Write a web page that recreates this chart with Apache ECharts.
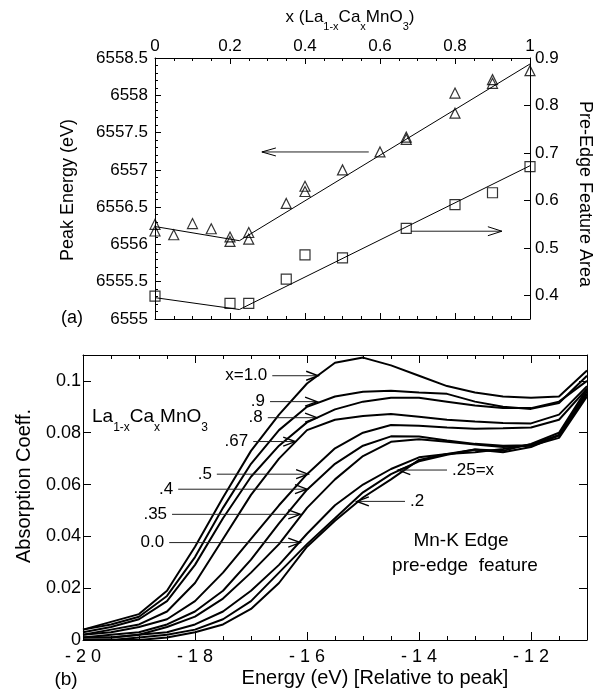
<!DOCTYPE html>
<html>
<head>
<meta charset="utf-8">
<script src="https://cdn.jsdelivr.net/npm/echarts@6/dist/echarts.min.js"></script>
<style>
  html, body { margin: 0; padding: 0; background: #fff; }
  #chart { width: 601px; height: 690px; }
</style>
</head>
<body>
<div id="chart"></div>
<script>
// ---------- Panel (a): peak energy and pre-edge area vs Ca content ----------
const peakX = [0, 0, 0.05, 0.1, 0.15, 0.2, 0.2, 0.25, 0.25, 0.35, 0.4, 0.4, 0.5, 0.6, 0.67, 0.67, 0.8, 0.8, 0.9, 0.9, 1.0];
const peakEnergy = [6556.27, 6556.18, 6556.13, 6556.28, 6556.21, 6556.10, 6556.04, 6556.16, 6556.07, 6556.55, 6556.78, 6556.71, 6557.00, 6557.24, 6557.44, 6557.41, 6558.03, 6557.76, 6558.21, 6558.16, 6558.33];
const areaX = [0, 0.2, 0.25, 0.35, 0.4, 0.5, 0.67, 0.8, 0.9, 1.0];
const featureArea = [0.398, 0.383, 0.383, 0.434, 0.485, 0.479, 0.541, 0.591, 0.616, 0.671];
// two-segment guide lines
const peakFitX = [0, 0.225, 1.0];
const peakFitY = [6556.24, 6556.05, 6558.42];
const areaFitX = [0, 0.225, 1.0];
const areaFitY = [0.395, 0.370, 0.673];
const areaTicks = [0.4, 0.5, 0.6, 0.7, 0.8, 0.9];
// arrows pointing to the axis each data set belongs to: [fromX, fromY, toX, toY]
const peakArrow = [0.57, 6557.24, 0.285, 6557.24];
const areaArrow = [0.683, 0.535, 0.925, 0.535];

// ---------- Panel (b): Mn-K pre-edge spectra ----------
const energy = [-20, -19.5, -19, -18.5, -18, -17.5, -17, -16.5, -16, -15.5, -15, -14.5, -14, -13.5, -13, -12.5, -12, -11.5, -11];
const absX100 = [0.004, 0.007, 0.010, 0.019, 0.036, 0.055, 0.073, 0.087, 0.099, 0.107, 0.109, 0.106, 0.102, 0.098, 0.0955, 0.094, 0.0935, 0.094, 0.104];
const absX090 = [0.004, 0.006, 0.009, 0.017, 0.032, 0.051, 0.068, 0.081, 0.090, 0.094, 0.0958, 0.0962, 0.0955, 0.095, 0.092, 0.090, 0.0892, 0.0915, 0.102];
const absX080 = [0.003, 0.005, 0.008, 0.015, 0.029, 0.047, 0.063, 0.075, 0.084, 0.089, 0.092, 0.0935, 0.0935, 0.092, 0.0905, 0.0895, 0.0895, 0.092, 0.100];
const absX067 = [0.002, 0.004, 0.006, 0.011, 0.022, 0.039, 0.056, 0.070, 0.081, 0.085, 0.0865, 0.0872, 0.0862, 0.085, 0.0843, 0.0838, 0.0836, 0.087, 0.098];
const absX050 = [0.002, 0.003, 0.005, 0.008, 0.015, 0.026, 0.039, 0.052, 0.064, 0.074, 0.080, 0.083, 0.0827, 0.082, 0.0815, 0.0817, 0.082, 0.085, 0.097];
const absX040 = [0.001, 0.002, 0.003, 0.006, 0.011, 0.019, 0.031, 0.045, 0.058, 0.068, 0.075, 0.0786, 0.0785, 0.077, 0.0757, 0.075, 0.0752, 0.079, 0.095];
const absX035 = [0.001, 0.001, 0.002, 0.005, 0.009, 0.016, 0.026, 0.037, 0.051, 0.062, 0.071, 0.0765, 0.0775, 0.0765, 0.0755, 0.0745, 0.075, 0.078, 0.094];
const absX000 = [0.001, 0.001, 0.002, 0.003, 0.006, 0.011, 0.019, 0.029, 0.041, 0.052, 0.060, 0.066, 0.0705, 0.0718, 0.0725, 0.0737, 0.0755, 0.079, 0.096];
const absX025 = [0.000, 0.000, 0.001, 0.002, 0.004, 0.008, 0.015, 0.026, 0.037, 0.047, 0.057, 0.064, 0.069, 0.0715, 0.0735, 0.073, 0.0757, 0.080, 0.097];
const absX020 = [0.000, 0.000, 0.000, 0.001, 0.003, 0.006, 0.012, 0.022, 0.036, 0.046, 0.055, 0.062, 0.0695, 0.0718, 0.0735, 0.0725, 0.0745, 0.079, 0.095];
const spectra = [absX100, absX090, absX080, absX067, absX050, absX040, absX035, absX000, absX025, absX020];

// composition tags with their pointer arrows (energy, absorption)
const tagText = ['x=1.0', '.9', '.8', '.67', '.5', '.4', '.35', '0.0', '.25=x', '.2'];
const tagFrom = [[-16.62, 0.102], [-16.66, 0.092], [-16.70, 0.0858], [-16.96, 0.0766], [-17.61, 0.064], [-18.30, 0.0582], [-18.41, 0.0485], [-18.46, 0.0376], [-13.50, 0.0656], [-14.25, 0.0535]];
const tagTo = [[-15.80, 0.102], [-15.82, 0.092], [-15.82, 0.0858], [-16.21, 0.0766], [-15.98, 0.064], [-16.00, 0.0582], [-16.12, 0.0485], [-16.12, 0.0376], [-14.37, 0.0656], [-15.11, 0.0535]];

// ---------- styling helpers ----------
const FONT = '"Liberation Sans", Arial, Helvetica, sans-serif';
const INK = '#000';

function frameAxis(extra) {
  return Object.assign({
    type: 'value',
    axisLine: { show: true, onZero: false, lineStyle: { color: INK, width: 1 } },
    axisTick: { show: true, inside: true, length: 6, lineStyle: { color: INK, width: 1 } },
    minorTick: { show: false },
    splitLine: { show: false },
    minorSplitLine: { show: false },
    axisLabel: { show: false }
  }, extra);
}
function tickLabel(size, margin, extra) {
  return Object.assign({ show: true, color: INK, fontFamily: FONT, fontSize: size, margin: margin,
                         formatter: function (v) { return String(v); } }, extra || {});
}

// arrow drawn in pixel space from two data points; optional tag at the tail
function arrowRenderer(tags, headLen, headHalf, headWidth, fontSize) {
  return function (params, api) {
    const p1 = api.coord([api.value(0), api.value(1)]);
    const p2 = api.coord([api.value(2), api.value(3)]);
    const dx = p2[0] - p1[0], dy = p2[1] - p1[1];
    const len = Math.hypot(dx, dy) || 1;
    const ux = dx / len, uy = dy / len, nx = -uy, ny = ux;
    const children = [
      { type: 'line', shape: { x1: p1[0], y1: p1[1], x2: p2[0], y2: p2[1] },
        style: { stroke: '#222', lineWidth: 1 } },
      { type: 'polyline',
        shape: { points: [
          [p2[0] - headLen * ux + headHalf * nx, p2[1] - headLen * uy + headHalf * ny],
          [p2[0], p2[1]],
          [p2[0] - headLen * ux - headHalf * nx, p2[1] - headLen * uy - headHalf * ny]
        ] },
        style: { stroke: INK, lineWidth: headWidth, fill: null } }
    ];
    if (tags) {
      const al = ux > 0 ? 'right' : 'left';
      children.push({
        type: 'text', x: p1[0] - 5 * ux, y: p1[1],
        style: { text: tags[params.dataIndex], fill: INK, fontFamily: FONT, fontSize: fontSize,
                 align: al, textAlign: al, verticalAlign: 'middle', textVerticalAlign: 'middle' }
      });
    }
    return { type: 'group', children: children };
  };
}

const subRich = function (main, sub, pad) {
  return {
    m: { fontSize: main, fontFamily: FONT, fill: INK, verticalAlign: 'top' },
    s: { fontSize: sub, fontFamily: FONT, fill: INK, verticalAlign: 'top', padding: [pad, 0, 0, 0] }
  };
};

function plainText(x, y, text, size, rotation, extra) {
  return Object.assign({
    type: 'text', x: x, y: y, rotation: rotation || 0, silent: true,
    style: { text: text, fill: INK, fontFamily: FONT, fontSize: size,
             align: 'center', textAlign: 'center', verticalAlign: 'middle', textVerticalAlign: 'middle' }
  }, extra || {});
}

const curveSeries = spectra.map(function (vals, k) {
  return {
    type: 'line', name: tagText[k], xAxisIndex: 2, yAxisIndex: 2,
    data: energy.map(function (e, i) { return [e, vals[i]]; }),
    showSymbol: false, symbol: 'none', clip: true, silent: true,
    lineStyle: { color: INK, width: 2 }, z: 3
  };
});

const option = {
  animation: false,
  backgroundColor: '#fff',
  grid: [
    { left: 155, top: 58, width: 375, height: 261 },
    { left: 83, top: 355, width: 504, height: 285 }
  ],
  xAxis: [
    frameAxis({ gridIndex: 0, position: 'top', min: 0, max: 1, interval: 0.2,
      minorTick: { show: true, splitNumber: 4, length: 3, lineStyle: { color: INK } },
      axisLabel: tickLabel(17, 3) }),
    frameAxis({ gridIndex: 0, position: 'bottom', min: 0, max: 1, interval: 0.2,
      minorTick: { show: true, splitNumber: 4, length: 3, lineStyle: { color: INK } } }),
    frameAxis({ gridIndex: 1, position: 'bottom', min: -20, max: -11, interval: 2,
      axisTick: { show: true, inside: true, length: 8, lineStyle: { color: INK } },
      minorTick: { show: true, splitNumber: 4, length: 4, lineStyle: { color: INK } },
      axisLabel: tickLabel(18, 8, { showMaxLabel: false,
        formatter: function (v) { return String(v).split('').join(' '); } }) }),
    frameAxis({ gridIndex: 1, position: 'top', min: -20, max: -11, interval: 2,
      axisTick: { show: true, inside: true, length: 8, lineStyle: { color: INK } },
      minorTick: { show: true, splitNumber: 4, length: 4, lineStyle: { color: INK } } })
  ],
  yAxis: [
    frameAxis({ gridIndex: 0, position: 'left', min: 6555, max: 6558.5, interval: 0.5,
      minorTick: { show: true, splitNumber: 5, length: 3, lineStyle: { color: INK } },
      axisLabel: tickLabel(17, 7) }),
    frameAxis({ gridIndex: 0, position: 'right', min: 0.35, max: 0.9,
      axisTick: { show: true, inside: true, length: 6, customValues: areaTicks, lineStyle: { color: INK } },
      axisLabel: tickLabel(17, 5, { customValues: areaTicks }) }),
    frameAxis({ gridIndex: 1, position: 'left', min: 0, max: 0.11, interval: 0.02,
      axisTick: { show: true, inside: true, length: 8, lineStyle: { color: INK } },
      axisLabel: tickLabel(18, 2, { showMaxLabel: false }) }),
    frameAxis({ gridIndex: 1, position: 'right', min: 0, max: 0.11, interval: 0.02,
      axisTick: { show: true, inside: true, length: 8, lineStyle: { color: INK } } })
  ],
  series: [
    { type: 'line', xAxisIndex: 1, yAxisIndex: 0, silent: true, symbol: 'none',
      data: peakFitX.map(function (x, i) { return [x, peakFitY[i]]; }),
      lineStyle: { color: INK, width: 1 } },
    { type: 'line', xAxisIndex: 1, yAxisIndex: 1, silent: true, symbol: 'none',
      data: areaFitX.map(function (x, i) { return [x, areaFitY[i]]; }),
      lineStyle: { color: INK, width: 1 } },
    { type: 'scatter', xAxisIndex: 1, yAxisIndex: 0, silent: true, symbol: 'triangle', symbolSize: 10,
      data: peakX.map(function (x, i) { return [x, peakEnergy[i]]; }),
      itemStyle: { color: 'rgba(0,0,0,0)', borderColor: INK, borderWidth: 1.2 } },
    { type: 'scatter', xAxisIndex: 1, yAxisIndex: 1, silent: true, symbol: 'rect', symbolSize: 10,
      data: areaX.map(function (x, i) { return [x, featureArea[i]]; }),
      itemStyle: { color: 'rgba(0,0,0,0)', borderColor: INK, borderWidth: 1.2 } },
    { type: 'custom', coordinateSystem: 'cartesian2d', xAxisIndex: 1, yAxisIndex: 0, silent: true, clip: false,
      encode: { x: [0, 2], y: [1, 3] },
      data: [peakArrow], renderItem: arrowRenderer(null, 14, 4, 1) },
    { type: 'custom', coordinateSystem: 'cartesian2d', xAxisIndex: 1, yAxisIndex: 1, silent: true, clip: false,
      encode: { x: [0, 2], y: [1, 3] },
      data: [areaArrow], renderItem: arrowRenderer(null, 14, 4.5, 1) }
  ].concat(curveSeries).concat([
    { type: 'custom', coordinateSystem: 'cartesian2d', xAxisIndex: 2, yAxisIndex: 2, silent: true, clip: false,
      encode: { x: [0, 2], y: [1, 3] }, z: 4,
      data: tagFrom.map(function (f, i) { return [f[0], f[1], tagTo[i][0], tagTo[i][1]]; }),
      renderItem: arrowRenderer(tagText, 12, 4.5, 1.4, 17) }
  ]),
  graphic: [
    { type: 'text', x: 350, y: 9, silent: true,
      style: { text: '{m|x (La}{s|1-x}{m|Ca}{s|x}{m|MnO}{s|3}{m|)}', rich: subRich(17, 11, 12),
               align: 'center', textAlign: 'center', verticalAlign: 'top', textVerticalAlign: 'top' } },
    plainText(72, 318, '(a)', 18),
    plainText(68, 190, 'Peak Energy (eV)', 18, Math.PI / 2),
    plainText(585, 194, 'Pre-Edge Feature Area', 18, -Math.PI / 2),
    { type: 'text', x: 92, y: 407, silent: true,
      style: { text: '{m|La}{s|1-x}{m|Ca}{s|x}{m|MnO}{s|3}', rich: subRich(19, 12, 15),
               align: 'left', textAlign: 'left', verticalAlign: 'top', textVerticalAlign: 'top' } },
    plainText(461, 541, 'Mn-K Edge', 19),
    plainText(465, 566, 'pre-edge  feature', 19),
    plainText(24, 486, 'Absorption Coeff.', 20, Math.PI / 2),
    plainText(375, 678, 'Energy (eV) [Relative to peak]', 20),
    plainText(66, 680, '(b)', 19)
  ]
};

const chart = echarts.init(document.getElementById('chart'), null, { renderer: 'canvas' });
chart.setOption(option);
</script>
</body>
</html>
